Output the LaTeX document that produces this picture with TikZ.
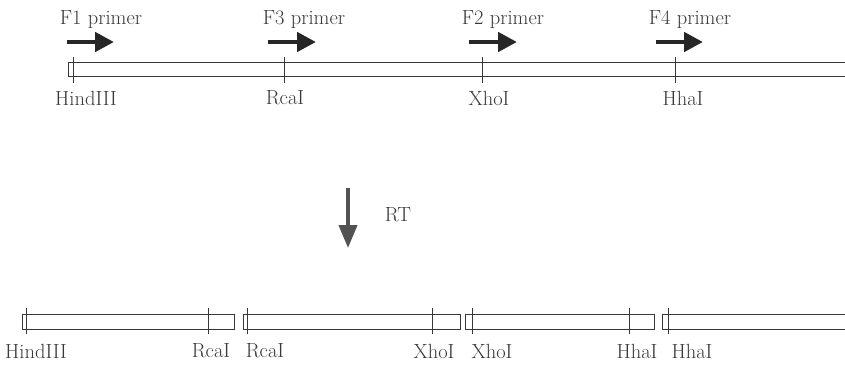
\documentclass[tikz,border=0pt]{standalone}
\usetikzlibrary{arrows.meta}
\definecolor{ink}{gray}{0.22}
\definecolor{rtgray}{gray}{0.32}
\tikzset{
  lbl/.style={text=ink, font=\fontsize{20.5}{23}\selectfont, inner sep=0pt},
  strand/.style={draw=ink, line width=1pt},
  site/.style={draw=ink, line width=0.9pt},
  primer/.style={draw=black!85, line width=4.6pt, -{Triangle[width=19pt,length=19pt]}},
}
\begin{document}
\begin{tikzpicture}[x=1pt,y=-1pt]
\useasboundingbox (0,0) rectangle (845,364);

% uncut strand with primers
\draw[strand] (845,62) -- (68,62) -- (68,76) -- (845,76);
\draw[site] (73,57) -- (73,83);
\draw[site] (284,57) -- (284,83);
\draw[site] (482,57) -- (482,83);
\draw[site] (675,57) -- (675,83);
\node[lbl] (hind) at (86,98) {HindIII};
\node[lbl] (rca) at (285,98) {RcaI};
\node[lbl] (xho) at (489,98) {XhoI};
\node[lbl] (hha) at (683,98) {HhaI};

\draw[primer] (67,42) -- (114,42);
\draw[primer] (268,42) -- (316,42);
\draw[primer] (469,42) -- (517,42);
\draw[primer] (656,42) -- (703,42);
\node[lbl] (f1) at (101,20) {F1 primer};
\node[lbl] (f3) at (304,20) {F3 primer};
\node[lbl] (f2) at (503,20) {F2 primer};
\node[lbl] (f4) at (690,20) {F4 primer};

% RT step
\draw[draw=rtgray, line width=4pt, -{Triangle[width=18pt,length=23pt]}] (348,188) -- (348,248);
\node[lbl] (rt) at (398,215) {RT};

% fragments after cutting
\draw[strand] (22,314) rectangle (234,329);
\draw[site] (26,308) -- (26,334);
\draw[site] (208,308) -- (208,334);
\draw[strand] (243,314) rectangle (460,329);
\draw[site] (247,308) -- (247,334);
\draw[site] (432,308) -- (432,334);
\draw[strand] (465,314) rectangle (654,329);
\draw[site] (472,308) -- (472,334);
\draw[site] (629,308) -- (629,334);
\draw[strand] (845,314) -- (662,314) -- (662,329) -- (845,329);
\draw[site] (668,308) -- (668,334);

\node[lbl] (hindb) at (36,351) {HindIII};
\node[lbl] (rcab1) at (211,351) {RcaI};
\node[lbl] (rcab2) at (265,351) {RcaI};
\node[lbl] (xhob1) at (434,351) {XhoI};
\node[lbl] (xhob2) at (492,351) {XhoI};
\node[lbl] (hhab1) at (637,351) {HhaI};
\node[lbl] (hhab2) at (692,351) {HhaI};
\end{tikzpicture}
\end{document}
